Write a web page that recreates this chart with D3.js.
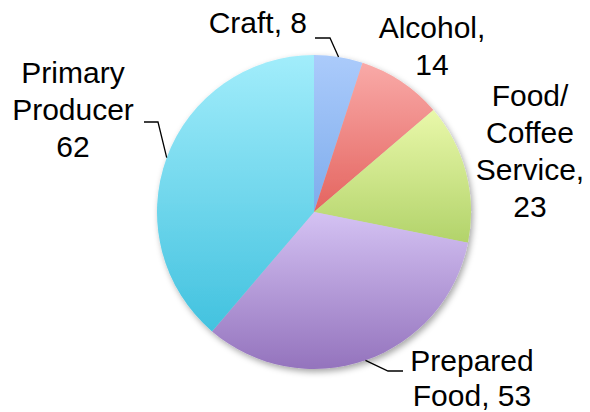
<!DOCTYPE html>
<html>
<head>
<meta charset="utf-8">
<script src="https://cdn.jsdelivr.net/npm/d3@7"></script>
<style>
  html, body { margin: 0; padding: 0; background: #fff; }
  #chart { width: 590px; height: 412px; }
  text { font-family: "Liberation Sans", Arial, Helvetica, sans-serif; fill: #000; }
</style>
</head>
<body>
<div id="chart"></div>
<script>
// data
const categories = ["Craft", "Alcohol", "Food/Coffee Service", "Prepared Food", "Primary Producer"];
const values = [8, 14, 23, 53, 62];
const labelLines = [
  ["Craft, 8"],
  ["Alcohol,", "14"],
  ["Food/", "Coffee", "Service,", "23"],
  ["Prepared", "Food, 53"],
  ["Primary", "Producer", "62"]
];

// colours: top -> bottom of each slice
const colorsTop = ["#abcbfb", "#f9aaa8", "#e9f8aa", "#d4c2f3", "#a2edfb"];
const colorsBottom = ["#7eacec", "#e4645f", "#b2d36a", "#9473bd", "#42c2df"];

// label layout (anchor x, first baseline, text-anchor, leader elbow)
const labelLayout = [
  { x: 307, y: 33, anchor: "end", elbow: [330, 38], end: [315, 38] },
  { x: 432, y: 38, anchor: "middle" },
  { x: 530, y: 106, anchor: "middle" },
  { x: 472, y: 371, anchor: "middle", elbow: [388, 371], end: [403, 371] },
  { x: 73, y: 83, anchor: "middle", elbow: [158, 122], end: [144, 122] }
];

const width = 590, height = 412;
const cx = 314, cy = 212, radius = 157;
const lineHeight = 37;

const svg = d3.select("#chart").append("svg")
  .attr("width", width)
  .attr("height", height);

const defs = svg.append("defs");

categories.forEach((c, i) => {
  const g = defs.append("linearGradient")
    .attr("id", "grad" + i)
    .attr("x1", 0).attr("y1", 0)
    .attr("x2", 0).attr("y2", 1);
  g.append("stop").attr("offset", "0%").attr("stop-color", colorsTop[i]);
  g.append("stop").attr("offset", "100%").attr("stop-color", colorsBottom[i]);
});

const shadow = defs.append("filter")
  .attr("id", "shadow")
  .attr("x", "-10%").attr("y", "-10%")
  .attr("width", "125%").attr("height", "125%");
shadow.append("feDropShadow")
  .attr("dx", 2).attr("dy", 3)
  .attr("stdDeviation", 3)
  .attr("flood-color", "#000")
  .attr("flood-opacity", 0.35);

const pie = d3.pie().sort(null).value(d => d);
const arcs = pie(values);

const arc = d3.arc().innerRadius(0).outerRadius(radius);

const g = svg.append("g").attr("transform", `translate(${cx},${cy})`);

const slices = g.append("g").attr("filter", "url(#shadow)");
slices.selectAll("path")
  .data(arcs)
  .enter()
  .append("path")
  .attr("d", arc)
  .attr("fill", (d, i) => `url(#grad${i})`);

// leader lines
arcs.forEach((d, i) => {
  const L = labelLayout[i];
  if (!L.elbow) return;
  const mid = (d.startAngle + d.endAngle) / 2;
  const px = cx + Math.sin(mid) * radius;
  const py = cy - Math.cos(mid) * radius;
  svg.append("path")
    .attr("d", d3.line()([[px, py], L.elbow, L.end]))
    .attr("fill", "none")
    .attr("stroke", "#000")
    .attr("stroke-width", 1.3);
});

// labels
labelLines.forEach((lines, i) => {
  const L = labelLayout[i];
  const t = svg.append("text")
    .attr("font-size", "30px")
    .attr("text-anchor", L.anchor);
  lines.forEach((s, k) => {
    t.append("tspan")
      .attr("x", L.x)
      .attr("y", L.y + k * (i === 3 ? 35 : lineHeight))
      .text(s);
  });
});
</script>
</body>
</html>
